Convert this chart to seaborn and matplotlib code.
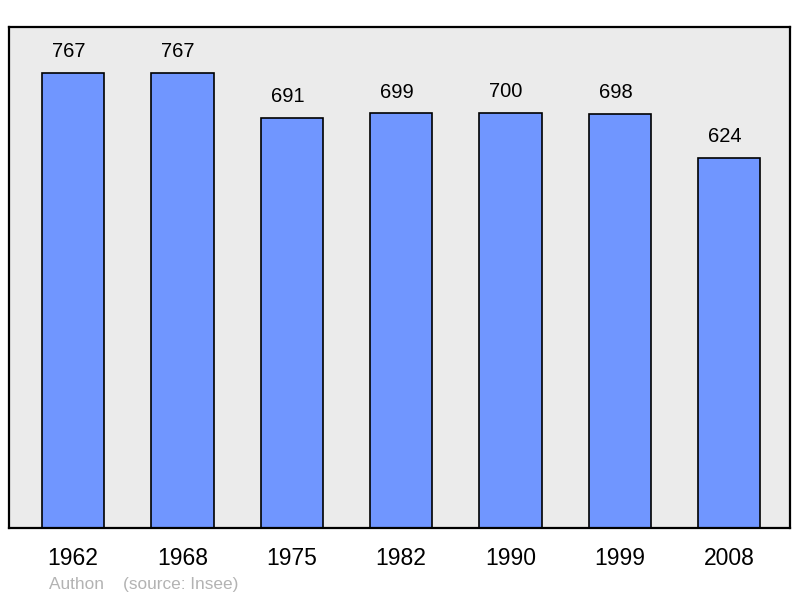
import matplotlib
matplotlib.use("Agg")
import matplotlib.pyplot as plt
import seaborn as sns
import pandas as pd

# data
years = ["1962", "1968", "1975", "1982", "1990", "1999", "2008"]
population = [767, 767, 691, 699, 700, 698, 624]

df = pd.DataFrame({"year": years, "pop": population})

sns.set_style("white")
plt.rcParams["font.family"] = ["Liberation Sans", "DejaVu Sans"]

fig = plt.figure(figsize=(8, 5.98), dpi=100)
ax = fig.add_axes([0.01125, 0.117, 0.976, 0.838])
ax.set_facecolor("#ebebeb")

sns.barplot(data=df, x="year", y="pop", color="#7096ff", saturation=1,
            edgecolor="black", linewidth=1.2, width=0.57, ax=ax)

# value labels sit a touch left of the bar centre in the original
for i, v in enumerate(population):
    ax.text(i - 0.04, v + 20, str(v), ha="center", va="bottom", fontsize=14.5,
            color="black")

ax.set_xlim(-0.585, 6.553)
ax.set_ylim(0, 845)
ax.set_yticks([])
ax.set_xlabel("")
ax.set_ylabel("")
ax.tick_params(axis="x", length=0, labelsize=16.5, pad=14, labelcolor="black")
for s in ax.spines.values():
    s.set_linewidth(1.6)
    s.set_color("black")

fig.text(0.061, 0.0155, "Authon    (source: Insee)", color="#b3b3b3", fontsize=12.4)

fig.savefig("out.png", dpi=100)
